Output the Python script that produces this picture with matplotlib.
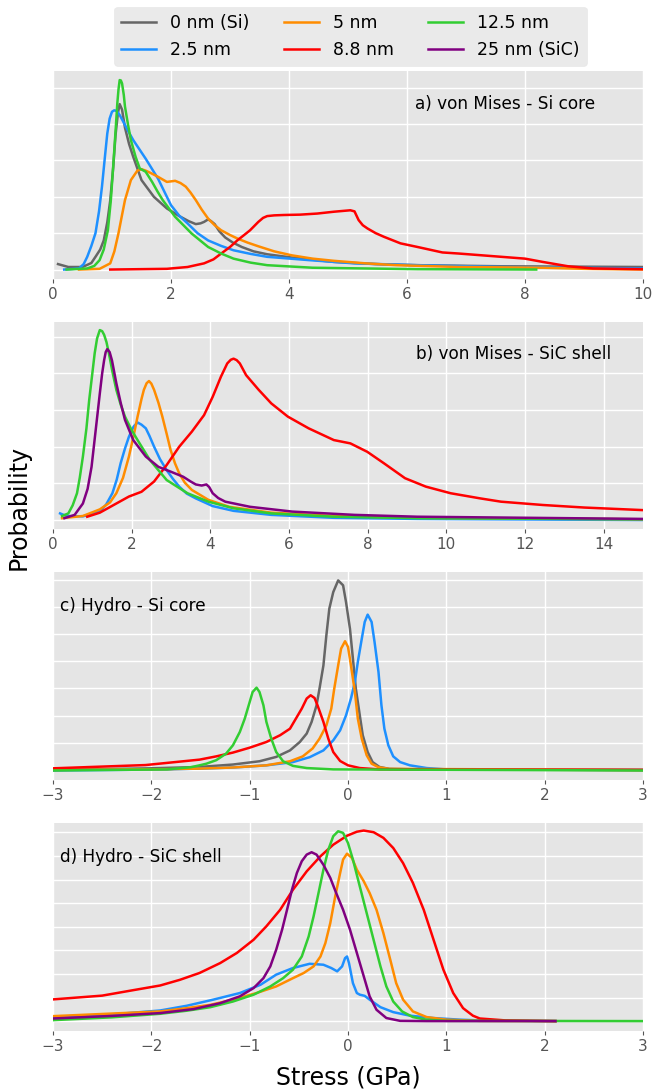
import matplotlib
matplotlib.use("Agg")
import matplotlib.pyplot as plt

# ---------------- data (arbitrary probability units) ----------------
LABELS = ["0 nm (Si)", "2.5 nm", "5 nm", "8.8 nm", "12.5 nm", "25 nm (SiC)"]
COLORS = ["#666666", "#1E90FF", "#FF8C00", "#FF0000", "#32CD32", "#800080"]

# a) von Mises - Si core
a_si_x = [0.085, 0.26, 0.5, 0.65, 0.72, 0.8, 0.86, 0.92, 0.97, 1.02, 1.06, 1.1, 1.13, 1.17, 1.22, 1.29, 1.36, 1.5, 1.71, 1.93, 2.14, 2.3, 2.42, 2.5, 2.56, 2.63, 2.68, 2.74, 2.82, 2.92, 3.05, 3.2, 3.4, 3.63, 4.05, 4.76, 5.47, 6.18, 7.6, 10.0]
a_si_y = [0.15, 0.07, 0.07, 0.18, 0.35, 0.55, 0.8, 1.3, 1.9, 2.8, 3.7, 4.3, 4.55, 4.4, 3.9, 3.45, 3.1, 2.46, 2.0, 1.68, 1.47, 1.33, 1.25, 1.27, 1.31, 1.38, 1.33, 1.25, 1.05, 0.88, 0.74, 0.62, 0.5, 0.42, 0.33, 0.21, 0.15, 0.12, 0.09, 0.07]
a_25_x = [0.19, 0.44, 0.52, 0.58, 0.65, 0.72, 0.78, 0.83, 0.88, 0.92, 0.96, 1.0, 1.04, 1.08, 1.13, 1.18, 1.27, 1.36, 1.57, 1.78, 1.9, 2.0, 2.14, 2.28, 2.45, 2.63, 2.85, 3.06, 3.35, 3.63, 4.33, 5.11, 6.18, 7.6, 10.0]
a_25_y = [0.0, 0.03, 0.15, 0.35, 0.65, 1.0, 1.6, 2.28, 3.1, 3.74, 4.15, 4.34, 4.38, 4.36, 4.25, 4.1, 3.82, 3.56, 3.05, 2.5, 2.1, 1.77, 1.48, 1.27, 1.0, 0.8, 0.65, 0.53, 0.43, 0.35, 0.26, 0.17, 0.12, 0.07, 0.03]
a_5_x = [0.44, 0.79, 0.97, 1.04, 1.11, 1.17, 1.22, 1.32, 1.43, 1.5, 1.57, 1.65, 1.78, 1.93, 2.07, 2.16, 2.25, 2.33, 2.42, 2.52, 2.63, 2.74, 2.85, 3.0, 3.13, 3.3, 3.48, 3.75, 4.05, 4.4, 4.76, 5.3, 5.82, 6.88, 8.3, 9.0, 10.0]
a_5_y = [0.0, 0.02, 0.17, 0.5, 1.0, 1.5, 1.91, 2.46, 2.72, 2.76, 2.72, 2.66, 2.55, 2.41, 2.44, 2.38, 2.28, 2.12, 1.91, 1.65, 1.4, 1.22, 1.08, 0.95, 0.85, 0.74, 0.64, 0.5, 0.39, 0.3, 0.24, 0.17, 0.12, 0.07, 0.05, 0.02, 0.0]
a_88_x = [0.97, 1.93, 2.28, 2.56, 2.72, 2.85, 3.0, 3.13, 3.24, 3.34, 3.48, 3.56, 3.63, 3.75, 3.91, 4.19, 4.48, 4.76, 5.04, 5.11, 5.18, 5.25, 5.33, 5.47, 5.61, 5.89, 6.18, 6.6, 6.88, 7.6, 8.0, 8.3, 8.55, 8.73, 9.15, 10.0]
a_88_y = [0.0, 0.02, 0.07, 0.17, 0.28, 0.44, 0.62, 0.81, 0.95, 1.08, 1.31, 1.42, 1.47, 1.49, 1.5, 1.51, 1.54, 1.59, 1.63, 1.6, 1.36, 1.22, 1.13, 1.0, 0.9, 0.72, 0.62, 0.47, 0.44, 0.35, 0.3, 0.21, 0.14, 0.09, 0.03, 0.01]
a_125_x = [0.23, 0.58, 0.7, 0.79, 0.86, 0.93, 0.98, 1.02, 1.06, 1.09, 1.11, 1.13, 1.15, 1.17, 1.2, 1.22, 1.27, 1.32, 1.4, 1.47, 1.57, 1.68, 1.77, 1.86, 2.07, 2.35, 2.63, 2.85, 3.06, 3.35, 3.63, 4.4, 6.18, 8.19]
a_125_y = [0.0, 0.03, 0.1, 0.26, 0.55, 1.08, 1.9, 2.83, 3.8, 4.57, 4.95, 5.21, 5.2, 5.12, 4.8, 4.48, 4.0, 3.56, 3.1, 2.78, 2.69, 2.41, 2.15, 1.91, 1.45, 0.99, 0.62, 0.44, 0.3, 0.19, 0.12, 0.05, 0.01, 0.0]

# b) von Mises - SiC shell
b_25_x = [0.18, 0.34, 0.76, 1.19, 1.35, 1.51, 1.62, 1.72, 1.83, 1.93, 2.05, 2.15, 2.25, 2.36, 2.45, 2.57, 2.72, 2.89, 3.05, 3.21, 3.4, 3.63, 4.06, 4.59, 5.55, 7.14, 9.26, 15.0]
b_25_y = [0.18, 0.11, 0.1, 0.23, 0.42, 0.73, 1.1, 1.55, 1.95, 2.27, 2.55, 2.66, 2.6, 2.5, 2.3, 2.0, 1.66, 1.36, 1.12, 0.91, 0.72, 0.59, 0.38, 0.25, 0.14, 0.06, 0.03, 0.0]
b_5_x = [0.23, 0.76, 1.19, 1.45, 1.61, 1.78, 1.93, 2.05, 2.15, 2.25, 2.31, 2.38, 2.44, 2.5, 2.57, 2.68, 2.78, 2.89, 2.99, 3.1, 3.21, 3.35, 3.53, 3.95, 4.48, 5.55, 7.14, 9.26, 15.0]
b_5_y = [0.05, 0.11, 0.29, 0.48, 0.73, 1.15, 1.73, 2.3, 2.82, 3.3, 3.55, 3.73, 3.79, 3.72, 3.55, 3.2, 2.82, 2.35, 1.91, 1.55, 1.27, 1.02, 0.82, 0.55, 0.36, 0.2, 0.11, 0.06, 0.02]
b_88_x = [0.87, 1.19, 1.61, 1.93, 2.25, 2.57, 2.89, 3.21, 3.53, 3.84, 4.06, 4.27, 4.43, 4.52, 4.59, 4.67, 4.75, 4.91, 5.23, 5.55, 5.97, 6.5, 7.14, 7.56, 7.99, 8.41, 8.95, 9.48, 10.11, 10.86, 11.39, 12.45, 13.51, 15.0]
b_88_y = [0.09, 0.2, 0.45, 0.64, 0.77, 1.05, 1.5, 2.0, 2.41, 2.86, 3.36, 3.91, 4.27, 4.37, 4.4, 4.36, 4.27, 3.95, 3.55, 3.18, 2.82, 2.5, 2.18, 2.09, 1.86, 1.55, 1.14, 0.91, 0.73, 0.59, 0.5, 0.41, 0.34, 0.27]
b_125_x = [0.23, 0.39, 0.5, 0.61, 0.68, 0.76, 0.85, 0.92, 1.0, 1.06, 1.12, 1.19, 1.25, 1.3, 1.36, 1.42, 1.51, 1.61, 1.72, 1.83, 2.0, 2.15, 2.46, 2.89, 3.42, 3.95, 4.59, 5.55, 7.14, 9.26, 15.0]
b_125_y = [0.11, 0.18, 0.4, 0.73, 1.15, 1.73, 2.5, 3.27, 4.0, 4.55, 4.95, 5.18, 5.15, 5.05, 4.85, 4.55, 4.05, 3.55, 3.15, 2.82, 2.45, 2.18, 1.64, 1.09, 0.73, 0.5, 0.32, 0.18, 0.09, 0.05, 0.02]
b_sic_x = [0.29, 0.55, 0.76, 0.88, 0.98, 1.08, 1.19, 1.25, 1.3, 1.34, 1.38, 1.44, 1.5, 1.61, 1.72, 1.83, 2.04, 2.36, 2.68, 2.99, 3.31, 3.5, 3.63, 3.78, 3.9, 3.97, 4.06, 4.2, 4.38, 5.01, 6.08, 7.67, 9.26, 15.0]
b_sic_y = [0.05, 0.14, 0.45, 0.85, 1.45, 2.4, 3.45, 4.0, 4.36, 4.58, 4.66, 4.58, 4.35, 3.73, 3.2, 2.73, 2.18, 1.73, 1.45, 1.32, 1.18, 1.05, 0.97, 0.94, 0.97, 0.9, 0.73, 0.6, 0.5, 0.36, 0.23, 0.14, 0.09, 0.03]

# c) Hydro - Si core
c_si_x = [-3.0, -2.01, -1.51, -1.17, -0.9, -0.73, -0.59, -0.49, -0.42, -0.37, -0.32, -0.29, -0.25, -0.22, -0.19, -0.15, -0.1, -0.05, -0.02, 0.02, 0.05, 0.08, 0.12, 0.15, 0.2, 0.25, 0.32, 0.42, 0.71, 3.0]
c_si_y = [0.0, 0.06, 0.11, 0.2, 0.32, 0.48, 0.72, 1.03, 1.34, 1.77, 2.38, 2.99, 3.85, 4.96, 5.94, 6.55, 6.98, 6.8, 6.18, 5.2, 4.1, 2.99, 2.01, 1.28, 0.66, 0.29, 0.11, 0.04, 0.02, 0.0]
c_25_x = [-3.0, -1.84, -1.51, -1.17, -0.83, -0.56, -0.39, -0.25, -0.15, -0.08, -0.02, 0.03, 0.07, 0.1, 0.14, 0.17, 0.2, 0.24, 0.27, 0.31, 0.34, 0.37, 0.41, 0.46, 0.53, 0.63, 0.8, 1.0, 3.0]
c_25_y = [-0.02, 0.02, 0.05, 0.09, 0.17, 0.29, 0.47, 0.72, 1.09, 1.46, 2.01, 2.63, 3.24, 3.98, 4.83, 5.45, 5.72, 5.45, 4.71, 3.61, 2.38, 1.52, 0.91, 0.5, 0.29, 0.17, 0.07, 0.02, 0.0]
c_5_x = [-3.0, -1.84, -1.51, -1.17, -0.83, -0.59, -0.46, -0.36, -0.29, -0.22, -0.17, -0.14, -0.1, -0.07, -0.03, 0.0, 0.03, 0.07, 0.1, 0.14, 0.19, 0.24, 0.31, 0.42, 3.0]
c_5_y = [0.0, 0.03, 0.05, 0.09, 0.17, 0.32, 0.5, 0.79, 1.15, 1.64, 2.26, 2.99, 3.85, 4.47, 4.74, 4.53, 3.85, 2.87, 1.89, 1.15, 0.54, 0.23, 0.1, 0.04, 0.0]
c_88_x = [-3.0, -2.06, -1.51, -1.34, -1.17, -1.0, -0.83, -0.69, -0.59, -0.53, -0.47, -0.42, -0.38, -0.34, -0.31, -0.25, -0.2, -0.15, -0.08, 0.0, 0.12, 0.32, 3.0]
c_88_y = [0.06, 0.18, 0.38, 0.5, 0.64, 0.82, 1.03, 1.28, 1.52, 1.89, 2.26, 2.63, 2.75, 2.65, 2.38, 1.77, 1.15, 0.66, 0.33, 0.17, 0.07, 0.02, 0.0]
c_125_x = [-3.0, -1.84, -1.6, -1.51, -1.44, -1.34, -1.24, -1.17, -1.1, -1.05, -1.0, -0.97, -0.93, -0.9, -0.86, -0.83, -0.78, -0.73, -0.66, -0.56, -0.42, -0.15, 3.0]
c_125_y = [-0.02, 0.02, 0.1, 0.17, 0.23, 0.36, 0.6, 0.91, 1.4, 1.89, 2.5, 2.87, 3.03, 2.87, 2.38, 1.77, 1.15, 0.66, 0.32, 0.15, 0.07, 0.02, -0.02]

# d) Hydro - SiC shell
d_25_x = [-3.0, -2.5, -1.91, -1.64, -1.37, -1.1, -0.89, -0.73, -0.56, -0.39, -0.25, -0.17, -0.11, -0.06, -0.03, -0.01, 0.01, 0.05, 0.09, 0.12, 0.17, 0.22, 0.33, 0.46, 0.63, 0.87, 1.14, 1.34, 2.11]
d_25_y = [0.11, 0.25, 0.45, 0.65, 0.91, 1.19, 1.54, 1.97, 2.25, 2.43, 2.39, 2.25, 2.11, 2.32, 2.67, 2.74, 2.46, 1.61, 1.19, 1.12, 1.07, 0.91, 0.59, 0.38, 0.23, 0.13, 0.06, 0.03, 0.0]
d_5_x = [-3.0, -2.4, -1.91, -1.64, -1.4, -1.17, -0.93, -0.73, -0.56, -0.45, -0.35, -0.28, -0.23, -0.18, -0.13, -0.08, -0.05, -0.01, 0.04, 0.09, 0.16, 0.22, 0.29, 0.36, 0.43, 0.49, 0.56, 0.66, 0.8, 1.0, 1.34, 2.11]
d_5_y = [0.21, 0.32, 0.41, 0.55, 0.69, 0.91, 1.19, 1.47, 1.82, 2.04, 2.32, 2.74, 3.31, 4.16, 5.29, 6.28, 6.85, 7.1, 6.92, 6.42, 5.93, 5.43, 4.72, 3.73, 2.6, 1.61, 0.91, 0.41, 0.17, 0.06, 0.01, 0.0]
d_88_x = [-3.0, -2.5, -2.2, -1.91, -1.71, -1.51, -1.3, -1.13, -0.96, -0.83, -0.69, -0.56, -0.42, -0.28, -0.15, -0.01, 0.09, 0.16, 0.26, 0.36, 0.46, 0.56, 0.66, 0.77, 0.87, 0.97, 1.07, 1.17, 1.27, 1.34, 1.6, 2.11]
d_88_y = [0.92, 1.08, 1.3, 1.51, 1.75, 2.04, 2.46, 2.89, 3.45, 4.02, 4.72, 5.57, 6.35, 6.99, 7.48, 7.86, 8.03, 8.08, 8.01, 7.77, 7.34, 6.7, 5.86, 4.72, 3.45, 2.18, 1.19, 0.55, 0.23, 0.11, 0.03, 0.0]
d_125_x = [-3.0, -2.4, -1.91, -1.64, -1.4, -1.17, -0.96, -0.79, -0.66, -0.56, -0.47, -0.4, -0.35, -0.3, -0.25, -0.2, -0.15, -0.1, -0.05, 0.0, 0.05, 0.12, 0.19, 0.26, 0.33, 0.39, 0.46, 0.55, 0.66, 0.8, 1.0, 3.0]
d_125_y = [0.04, 0.16, 0.31, 0.44, 0.59, 0.83, 1.12, 1.47, 1.82, 2.18, 2.74, 3.59, 4.44, 5.43, 6.42, 7.27, 7.84, 8.05, 7.98, 7.55, 6.85, 5.71, 4.58, 3.45, 2.32, 1.47, 0.83, 0.41, 0.17, 0.06, 0.01, 0.0]
d_sic_x = [-3.0, -2.4, -1.91, -1.57, -1.3, -1.1, -0.96, -0.86, -0.79, -0.73, -0.67, -0.62, -0.57, -0.52, -0.47, -0.42, -0.37, -0.32, -0.25, -0.18, -0.12, -0.05, 0.02, 0.09, 0.16, 0.22, 0.29, 0.39, 0.53, 0.8, 2.11]
d_sic_y = [0.11, 0.22, 0.34, 0.51, 0.76, 1.05, 1.4, 1.82, 2.32, 3.03, 3.88, 4.72, 5.57, 6.28, 6.78, 7.06, 7.16, 7.06, 6.63, 6.07, 5.43, 4.72, 3.88, 2.89, 1.9, 1.05, 0.48, 0.13, 0.01, 0.0, 0.0]

PANEL_TEXT = ["a) von Mises - Si core", "b) von Mises - SiC shell",
              "c) Hydro - Si core", "d) Hydro - SiC shell"]
XTICKS_A = [0, 2, 4, 6, 8, 10]
XTICKS_B = [0, 2, 4, 6, 8, 10, 12, 14]
XTICKS_CD = [-3, -2, -1, 0, 1, 2, 3]

# ---------------- figure ----------------
plt.style.use("ggplot")
plt.rcParams["font.family"] = ["DejaVu Sans"]

W, H = 654, 1092
fig = plt.figure(figsize=(W / 100, H / 100), dpi=100)

def box(top, bottom, left=53, right=643):
    return [left / W, 1 - bottom / H, (right - left) / W, (bottom - top) / H]

LW = 1.8
panels = [
    dict(rect=box(71, 279), xlim=(0, 10), ylim=(-0.26, 5.46), yt=range(0, 6), xt=XTICKS_A,
         series=[(0, a_si_x, a_si_y), (1, a_25_x, a_25_y), (2, a_5_x, a_5_y),
                 (3, a_88_x, a_88_y), (4, a_125_x, a_125_y)],
         tx=0.614, ty=0.84),
    dict(rect=box(322, 529), xlim=(0, 15), ylim=(-0.245, 5.4), yt=range(0, 6), xt=XTICKS_B,
         series=[(1, b_25_x, b_25_y), (2, b_5_x, b_5_y), (3, b_88_x, b_88_y),
                 (4, b_125_x, b_125_y), (5, b_sic_x, b_sic_y)],
         tx=0.615, ty=0.845),
    dict(rect=box(572, 780), xlim=(-3, 3), ylim=(-0.37, 7.29), yt=range(0, 8), xt=XTICKS_CD,
         series=[(0, c_si_x, c_si_y), (1, c_25_x, c_25_y), (2, c_5_x, c_5_y),
                 (3, c_88_x, c_88_y), (4, c_125_x, c_125_y)],
         tx=0.012, ty=0.837),
    dict(rect=box(823, 1031), xlim=(-3, 3), ylim=(-0.42, 8.4), yt=range(0, 9), xt=XTICKS_CD,
         series=[(1, d_25_x, d_25_y), (2, d_5_x, d_5_y), (3, d_88_x, d_88_y),
                 (4, d_125_x, d_125_y), (5, d_sic_x, d_sic_y)],
         tx=0.012, ty=0.837),
]

handles = {}
for i, p in enumerate(panels):
    ax = fig.add_axes(p["rect"])
    ax.set_facecolor("#E5E5E5")
    for k, xs, ys in p["series"]:
        ln, = ax.plot(xs, ys, color=COLORS[k], lw=LW, label=LABELS[k],
                      solid_joinstyle="round")
        handles.setdefault(k, ln)
    ax.set_xlim(*p["xlim"])
    ax.set_ylim(*p["ylim"])
    ax.set_yticks(list(p["yt"]))
    ax.set_yticklabels([])
    ax.set_xticks(p["xt"])
    ax.tick_params(axis="y", length=0)
    ax.tick_params(axis="x", labelsize=11, colors="#555555", length=3, pad=3)
    ax.grid(True, color="white", lw=1)
    for s in ax.spines.values():
        s.set_visible(False)
    ax.text(p["tx"], p["ty"], PANEL_TEXT[i], transform=ax.transAxes,
            ha="left", va="center", fontsize=12.2, color="black")

fig.text(0.028, 1 - 507 / H, "Probability", rotation=90, ha="center", va="center",
         fontsize=17, color="black")
fig.text(348 / W, 1 - 1078 / H, "Stress (GPa)", ha="center", va="center",
         fontsize=17, color="black")

order = [0, 1, 2, 3, 4, 5]
fig.legend([handles[k] for k in order], [LABELS[k] for k in order],
           ncol=3, loc="upper center", bbox_to_anchor=(350.5 / W, 1 - 7 / H),
           fontsize=12.5, frameon=True, facecolor="#E5E5E5", framealpha=0.8,
           edgecolor="#E5E5E5", handlelength=2.0, columnspacing=2.0,
           borderaxespad=0)

fig.savefig("out.png", dpi=100)
